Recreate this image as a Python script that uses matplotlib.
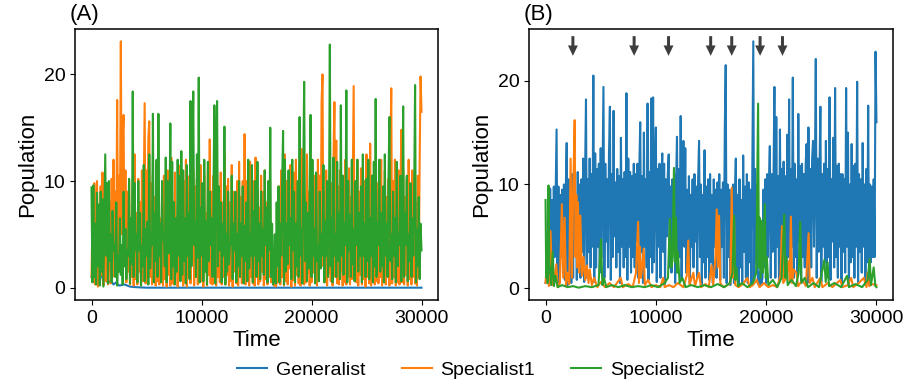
import numpy as np
import matplotlib
matplotlib.use("Agg")
import matplotlib.pyplot as plt

plt.rcParams['font.family'] = ['Liberation Sans', 'DejaVu Sans']

# ---------------- data ----------------
# dense series: 361 samples evenly spaced over 0 .. 30000
time_grid = np.linspace(0, 30000, 361)

orange_a = [
    1.0, 6.2, 0.5, 9.8, 0.3, 7.0, 10.0, 0.1, 6.5, 0.4, 9.5, 1.2, 10.8, 0.2, 5.0, 8.8, 0.6, 9.6, 0.3, 4.0,
    8.0, 0.4, 10.2, 1.0, 12.0, 2.5, 9.0, 4.0, 17.6, 3.0, 10.5, 6.0, 23.1, 5.0, 14.0, 16.2, 2.0, 11.0, 0.5, 9.0,
    1.5, 10.0, 0.3, 6.0, 1.0, 9.5, 0.2, 12.5, 0.8, 7.0, 0.3, 10.2, 1.5, 8.0, 0.2, 11.0, 0.6, 9.0, 17.3, 0.4,
    11.0, 2.0, 14.0, 15.6, 1.0, 9.8, 0.3, 10.5, 1.5, 8.5, 0.2, 11.8, 0.6, 10.0, 0.3, 6.5, 1.0, 9.0, 0.2, 10.5,
    0.8, 7.0, 0.1, 11.0, 1.2, 9.5, 0.2, 12.2, 0.4, 8.0, 0.3, 10.8, 1.5, 6.5, 0.1, 9.8, 0.8, 11.5, 2.0, 8.2,
    0.2, 10.0, 0.5, 12.0, 0.1, 9.0, 1.0, 10.5, 0.4, 7.5, 2.5, 11.0, 0.2, 9.5, 1.0, 10.2, 0.3, 8.0, 0.5, 11.5,
    0.6, 9.0, 0.1, 10.5, 1.5, 7.0, 0.2, 11.0, 1.2, 13.9, 0.4, 9.0, 0.3, 10.5, 2.5, 7.5, 0.2, 11.0, 1.0, 9.0,
    0.5, 10.8, 0.3, 8.0, 1.0, 12.5, 0.3, 9.5, 1.2, 10.2, 0.2, 8.0, 0.6, 11.5, 0.1, 9.0, 1.5, 7.0, 0.4, 10.0,
    0.2, 11.8, 1.0, 8.5, 0.4, 10.0, 0.8, 14.4, 0.3, 10.0, 0.8, 6.5, 0.2, 11.8, 1.0, 8.5, 0.4, 10.0, 0.2, 12.2,
    1.2, 9.0, 0.3, 7.5, 0.6, 10.5, 1.5, 9.0, 0.2, 11.0, 0.8, 8.0, 0.3, 10.0, 1.0, 6.0, 0.5, 1.5, 0.8, 0.2,
    1.0, 0.1, 0.4, 2.0, 0.5, 9.5, 0.3, 11.0, 1.0, 8.0, 0.2, 12.5, 0.6, 10.0, 0.3, 9.0, 1.8, 11.5, 0.1, 7.5,
    0.7, 10.8, 0.2, 12.0, 1.2, 9.0, 0.4, 11.5, 0.2, 13.0, 1.0, 10.2, 0.3, 8.5, 0.5, 12.5, 1.4, 9.0, 0.2, 11.0,
    0.5, 8.5, 1.4, 10.5, 0.6, 9.8, 0.2, 12.0, 1.0, 10.5, 3.0, 17.4, 20.0, 2.0, 9.0, 0.5, 11.0, 0.2, 8.5, 1.4,
    10.5, 0.6, 9.8, 0.2, 12.0, 17.4, 1.0, 13.8, 0.4, 9.5, 0.3, 11.0, 1.6, 8.0, 0.2, 10.5, 0.5, 12.0, 0.3, 9.0,
    1.0, 11.2, 0.3, 8.5, 0.8, 10.0, 18.9, 1.0, 10.0, 0.5, 12.0, 0.2, 9.0, 1.2, 11.2, 0.3, 8.5, 0.8, 10.0, 0.1,
    12.5, 1.0, 9.5, 0.4, 13.5, 0.2, 10.5, 1.5, 8.0, 0.3, 11.0, 0.6, 9.8, 0.4, 10.0, 1.0, 12.0, 0.2, 9.0, 0.8,
    11.0, 0.3, 8.5, 1.2, 10.2, 0.2, 12.0, 18.7, 0.4, 10.0, 1.0, 12.0, 0.2, 9.0, 0.5, 11.0, 0.3, 8.5, 14.8, 0.5,
    11.0, 0.3, 8.5, 1.2, 10.2, 0.2, 12.0, 0.8, 9.5, 0.3, 11.0, 1.0, 10.0, 0.4, 8.0, 0.2, 10.5, 1.0, 12.0, 19.8,
    16.5,
]

green_a = [
    9.4, 0.5, 9.6, 1.0, 6.0, 0.3, 8.9, 2.0, 7.8, 0.2, 9.0, 1.5, 8.3, 0.1, 6.5, 12.5, 3.0, 9.8, 0.4, 10.0,
    2.5, 5.0, 0.5, 7.2, 3.5, 4.0, 1.0, 8.0, 0.2, 3.0, 1.5, 6.5, 1.2, 4.0, 0.3, 9.0, 2.0, 5.5, 0.8, 3.5,
    3.0, 10.2, 0.4, 6.5, 2.2, 18.4, 1.0, 9.8, 3.5, 5.0, 0.5, 10.0, 3.5, 7.0, 0.2, 4.0, 2.0, 11.5, 0.6, 5.5,
    3.0, 6.2, 0.3, 12.5, 1.8, 5.0, 4.0, 16.3, 0.5, 7.0, 2.5, 12.0, 1.0, 16.3, 3.0, 6.0, 0.5, 10.0, 4.5, 5.0,
    2.0, 12.2, 0.5, 10.0, 3.2, 6.5, 15.4, 0.8, 11.8, 2.0, 8.0, 0.3, 6.5, 1.5, 12.0, 3.0, 10.5, 0.6, 12.8, 1.2,
    11.0, 2.5, 6.5, 0.4, 11.5, 3.0, 7.0, 0.8, 17.5, 2.0, 10.8, 18.4, 4.0, 6.2, 1.0, 12.5, 2.8, 19.7, 0.5, 7.5,
    3.0, 9.8, 0.6, 12.0, 1.5, 6.2, 0.3, 11.8, 2.5, 9.0, 4.0, 6.5, 1.0, 8.0, 17.1, 0.4, 12.8, 17.5, 2.0, 9.5,
    3.5, 8.0, 0.5, 6.0, 3.0, 15.1, 0.3, 5.0, 1.5, 9.0, 2.2, 4.0, 4.0, 10.5, 0.8, 6.0, 3.5, 9.0, 0.5, 5.0,
    2.0, 10.0, 1.0, 6.0, 3.0, 9.5, 0.4, 5.8, 2.5, 8.0, 0.6, 12.0, 1.8, 5.0, 3.0, 11.5, 0.5, 7.2, 3.0, 10.0,
    1.0, 11.8, 2.5, 6.0, 0.8, 9.0, 3.0, 5.5, 1.2, 11.0, 4.0, 7.5, 0.5, 10.0, 3.5, 15.0, 1.0, 6.0, 0.3, 0.8,
    5.0, 0.4, 8.0, 2.0, 9.5, 0.5, 6.0, 3.0, 10.0, 14.7, 0.3, 12.0, 1.5, 6.0, 2.2, 11.0, 4.0, 6.5, 0.8, 12.0,
    3.5, 9.0, 0.5, 6.0, 2.0, 10.0, 1.0, 16.0, 3.0, 5.5, 0.4, 10.8, 19.3, 2.5, 8.0, 0.6, 7.0, 1.8, 10.0, 16.2,
    1.0, 12.0, 3.0, 5.5, 0.4, 10.8, 2.5, 4.0, 0.6, 9.0, 1.8, 5.0, 3.0, 11.5, 0.5, 6.2, 3.0, 10.0, 1.0, 5.8,
    22.8, 2.0, 6.5, 0.5, 12.2, 3.0, 5.0, 1.0, 11.8, 2.5, 7.0, 0.8, 17.1, 3.0, 10.5, 1.2, 6.0, 4.0, 18.5, 0.5,
    10.0, 3.5, 6.8, 1.0, 12.0, 2.2, 5.5, 0.6, 10.0, 4.0, 12.0, 1.5, 7.0, 3.0, 9.5, 0.5, 12.5, 3.0, 6.0, 1.0,
    10.2, 2.5, 12.0, 0.8, 6.5, 3.0, 10.5, 0.5, 11.8, 2.0, 17.7, 1.0, 6.0, 4.0, 12.0, 1.5, 7.0, 2.0, 9.5, 0.5,
    12.5, 3.0, 6.0, 1.0, 10.2, 16.0, 2.5, 5.0, 0.8, 9.0, 3.0, 6.5, 0.5, 11.8, 2.0, 5.0, 4.0, 10.5, 0.6, 6.0,
    17.0, 1.0, 7.0, 4.0, 10.5, 0.6, 5.0, 2.5, 9.8, 1.0, 6.5, 3.0, 9.0, 19.0, 0.5, 5.5, 2.0, 8.5, 0.8, 6.0,
    3.5,
]

gen_a_time = [0, 250, 500, 750, 1000, 1100, 1250, 1500, 1750, 2000, 2250, 2500, 3000, 3500, 4000, 5000, 30000]
gen_a_vals = [1.0, 0.6, 0.9, 0.5, 1.8, 0.8, 1.2, 0.4, 0.7, 0.3, 0.5, 0.2, 0.3, 0.1, 0.05, 0.0, 0.0]

blue_b = [
    0.5, 1.0, 4.0, 9.5, 0.8, 9.6, 2.0, 8.5, 0.5, 9.8, 3.0, 9.0, 15.3, 1.0, 9.8, 0.5, 9.0, 3.0, 9.5, 1.5,
    10.0, 0.8, 9.5, 14.0, 0.3, 10.5, 2.5, 9.8, 0.5, 11.0, 1.0, 10.8, 4.0, 9.0, 0.8, 11.2, 2.0, 10.0, 1.0, 10.5,
    3.5, 12.5, 0.6, 11.0, 18.2, 1.0, 10.5, 3.5, 12.5, 2.0, 11.0, 4.0, 20.5, 0.6, 13.0, 2.0, 11.5, 4.0, 12.0, 1.5,
    13.5, 3.0, 11.0, 19.4, 1.0, 12.0, 4.5, 10.5, 2.0, 12.8, 17.5, 0.8, 11.0, 3.0, 17.1, 5.0, 10.2, 2.0, 11.5, 3.5,
    10.8, 0.5, 14.5, 4.0, 10.5, 2.0, 11.2, 3.0, 18.8, 0.8, 12.5, 4.0, 11.2, 1.5, 10.8, 3.0, 12.0, 2.0, 11.0, 4.5,
    12.0, 1.0, 11.5, 16.0, 3.5, 10.8, 0.5, 15.0, 4.0, 10.5, 2.0, 17.8, 0.8, 11.2, 3.0, 18.3, 1.5, 18.4, 2.5, 10.8,
    15.5, 0.6, 11.5, 4.0, 12.0, 1.0, 10.2, 13.0, 3.5, 12.0, 0.4, 10.5, 5.0, 11.0, 12.9, 2.0, 9.8, 1.5, 10.5, 4.0,
    11.0, 0.5, 10.0, 14.6, 1.5, 11.5, 3.0, 16.6, 0.8, 10.0, 14.2, 4.0, 13.5, 1.5, 9.5, 3.0, 10.8, 0.5, 9.0, 4.0,
    10.5, 2.0, 11.0, 4.5, 9.8, 1.0, 10.5, 14.2, 3.0, 10.0, 0.4, 9.0, 2.5, 13.3, 1.0, 9.8, 3.0, 10.5, 0.8, 11.0,
    2.5, 9.0, 0.5, 10.5, 4.0, 9.5, 1.0, 10.2, 3.0, 11.0, 0.8, 9.5, 4.0, 10.2, 1.0, 15.4, 21.5, 0.5, 10.0, 3.0,
    9.5, 0.3, 8.8, 2.0, 10.0, 0.5, 9.0, 12.5, 1.0, 9.0, 0.3, 10.5, 2.0, 8.5, 0.6, 12.8, 3.5, 9.8, 1.0, 11.0,
    0.5, 10.2, 2.5, 9.5, 0.4, 11.5, 23.8, 0.8, 11.5, 2.5, 10.0, 0.4, 1.5, 0.2, 2.0, 0.5, 1.0, 9.5, 2.0, 10.5,
    0.5, 11.0, 3.0, 10.0, 13.7, 1.0, 11.0, 3.5, 10.5, 19.4, 1.0, 16.5, 4.0, 10.8, 0.6, 15.3, 3.5, 11.5, 2.0, 12.2,
    4.0, 10.8, 1.5, 14.8, 3.0, 18.2, 0.8, 11.5, 4.0, 20.3, 1.0, 12.0, 3.0, 10.5, 1.2, 16.8, 4.5, 11.8, 0.5, 12.0,
    3.0, 11.0, 2.0, 12.0, 13.9, 0.5, 15.5, 3.0, 11.5, 2.0, 12.5, 14.2, 4.0, 11.0, 22.1, 1.0, 12.5, 3.5, 11.0, 17.5,
    0.6, 11.0, 4.0, 12.0, 2.5, 14.2, 1.0, 11.5, 3.0, 18.4, 0.8, 10.5, 4.5, 14.5, 2.0, 19.3, 3.0, 11.8, 1.0, 12.0,
    4.0, 11.0, 0.5, 11.0, 3.5, 10.5, 1.5, 19.3, 4.0, 15.0, 0.3, 10.0, 2.5, 13.9, 3.0, 11.8, 1.0, 12.0, 4.0, 19.9,
    0.5, 11.0, 3.5, 10.5, 1.5, 14.0, 4.0, 10.0, 0.3, 11.5, 2.5, 17.6, 0.3, 10.0, 2.5, 9.8, 3.0, 10.5, 3.0, 22.8,
    16.0,
]

orange_b_time = [
    0, 150, 300, 450, 600, 800, 970, 1100, 1300, 1480, 1600, 1730, 1850, 2000, 2150, 2270, 2400, 2500, 2640, 2720,
    2790, 2870, 2940, 3050, 3150, 3300, 3450, 3600, 3750, 3900, 4000, 4200, 4400, 4700, 5000, 5400, 5800, 6200, 6810, 7000,
    7500, 7900, 8200, 8390, 8470, 8540, 8650, 8750, 8900, 9000, 9300, 9600, 10000, 10400, 10660, 10800, 11200, 11600, 12000, 12500,
    12800, 12940, 13050, 13400, 13550, 13900, 14100, 14500, 14800, 15050, 15200, 15400, 15520, 15620, 15730, 15850, 16100, 16500, 16750, 16880,
    16970, 17090, 17200, 17500, 17900, 18300, 18500, 18800, 19150, 19400, 19800, 20200, 20600, 21000, 21300, 21430, 21550, 21800, 22030, 22150,
    22240, 22350, 22500, 22730, 22900, 23300, 23600, 23850, 23950, 24200, 24400, 24910, 25100, 25600, 26000, 26730, 26900, 27400, 27700, 27900,
    28400, 28850, 29100, 29200, 29350, 29600, 30000,
]
orange_b_vals = [
    0.5, 3.0, 0.2, 5.5, 0.3, 1.0, 2.3, 0.1, 0.5, 8.1, 1.0, 6.8, 0.2, 1.5, 0.4, 12.5, 1.0, 9.0, 16.2, 3.0,
    9.0, 2.0, 8.3, 1.5, 7.0, 1.2, 3.0, 0.8, 2.2, 0.5, 1.8, 0.3, 1.0, 0.1, 0.6, 0.1, 0.5, 0.1, 1.0, 0.1,
    0.4, 0.1, 1.5, 6.4, 0.5, 4.0, 1.0, 2.0, 3.8, 0.3, 0.8, 0.1, 0.3, 0.1, 1.0, 0.1, 0.3, 0.1, 0.5, 0.1,
    1.2, 4.6, 0.3, 1.5, 0.2, 1.5, 0.1, 0.4, 0.1, 2.2, 0.3, 3.0, 7.6, 2.0, 7.0, 0.5, 0.1, 0.3, 0.5, 9.7,
    1.0, 6.8, 0.3, 0.1, 0.4, 1.0, 0.1, 0.3, 0.8, 0.1, 0.5, 0.1, 0.3, 0.1, 1.2, 6.0, 0.5, 1.0, 2.6, 0.6,
    6.9, 0.5, 1.8, 1.5, 0.2, 0.8, 0.2, 5.3, 0.5, 1.0, 0.1, 1.0, 0.1, 0.5, 0.1, 0.8, 0.1, 0.3, 1.0, 0.1,
    0.5, 1.0, 0.1, 1.5, 0.2, 0.4, 0.3,
]

green_b_time = [
    0, 60, 120, 200, 270, 350, 420, 500, 640, 760, 900, 1100, 1500, 2000, 2500, 3000, 3600, 4200, 4800, 5030,
    5150, 5300, 5500, 6000, 6600, 7200, 7800, 8400, 9000, 9600, 10200, 10800, 11100, 11270, 11400, 11520, 11640, 11730, 11820, 11920,
    12000, 12150, 12400, 12700, 13200, 13800, 14400, 15000, 15600, 16200, 16700, 16950, 17090, 17200, 17300, 17450, 17800, 18300, 18800, 19100,
    19270, 19340, 19400, 19500, 19610, 19720, 19880, 19970, 20060, 20200, 20600, 21000, 21400, 21640, 21740, 21820, 21950, 22300, 22700, 22950,
    23090, 23200, 23500, 23800, 24300, 24800, 25270, 25400, 25570, 25700, 26200, 26800, 27330, 27500, 28100, 28700, 29200, 29390, 29500, 29750,
    29900, 30000,
]
green_b_vals = [
    8.5, 1.0, 4.3, 0.5, 9.9, 1.5, 2.0, 0.3, 3.5, 0.2, 1.2, 0.1, 0.3, 0.1, 0.2, 0.05, 0.2, 0.1, 0.3, 4.7,
    0.3, 1.0, 0.1, 0.3, 0.1, 0.3, 0.1, 0.2, 0.1, 0.3, 0.1, 0.5, 1.0, 6.7, 2.0, 3.0, 11.6, 2.5, 6.8, 1.5,
    3.5, 0.5, 1.0, 0.1, 0.3, 0.1, 0.3, 0.1, 0.4, 0.1, 0.5, 1.5, 7.0, 0.8, 2.0, 0.2, 0.5, 0.1, 0.5, 1.5,
    17.8, 2.0, 6.8, 1.0, 6.5, 1.5, 8.1, 1.0, 3.0, 0.3, 0.8, 0.1, 1.0, 7.1, 1.0, 3.0, 0.3, 0.8, 0.2, 1.5,
    6.4, 0.5, 1.0, 0.1, 0.5, 0.1, 2.7, 0.6, 2.5, 0.2, 0.5, 0.1, 1.2, 0.1, 0.4, 0.1, 0.8, 2.8, 0.3, 2.0,
    0.2, 0.1,
]

arrow_times = [2480, 8030, 11150, 14970, 16880, 19450, 21480]

series_names = ["Generalist", "Specialist1", "Specialist2"]
colors = ["#1f77b4", "#ff7f0e", "#2ca02c"]

# ---------------- figure ----------------
fig = plt.figure(figsize=(9.22, 3.87), dpi=100)
axA = fig.add_axes([75 / 922, 87 / 387, 363 / 922, 271 / 387])
axB = fig.add_axes([529 / 922, 87 / 387, 364 / 922, 271 / 387])

lw = 1.5
axA.plot(gen_a_time, gen_a_vals, color=colors[0], lw=lw, label=series_names[0])
axA.plot(time_grid, orange_a, color=colors[1], lw=lw, label=series_names[1])
axA.plot(time_grid, green_a, color=colors[2], lw=lw, label=series_names[2])

axB.plot(time_grid, blue_b, color=colors[0], lw=lw)
axB.plot(orange_b_time, orange_b_vals, color=colors[1], lw=lw)
axB.plot(green_b_time, green_b_vals, color=colors[2], lw=lw)

for ax, tag in [(axA, "(A)"), (axB, "(B)")]:
    ax.set_xlabel("Time", fontsize=16, labelpad=2)
    ax.set_ylabel("Population", fontsize=16, labelpad=4)
    ax.set_xticks([0, 10000, 20000, 30000])
    ax.set_yticks([0, 10, 20])
    ax.tick_params(labelsize=14)
    for s in ax.spines.values():
        s.set_linewidth(1.1)
    ax.text(-0.015, 1.015, tag, transform=ax.transAxes, fontsize=16,
            ha="left", va="bottom")

# freeze limits from the data, then add arrows
ylB = axB.get_ylim()
xlB = axB.get_xlim()
axB.set_ylim(ylB)
axB.set_xlim(xlB)
for t in arrow_times:
    axB.arrow(t, 24.3, 0, -1.9, width=270, head_width=900, head_length=1.0,
              length_includes_head=True, color="#3d3d3d", lw=0)

fig.legend(loc="center", bbox_to_anchor=(0.511, 17 / 387), ncol=3, frameon=False,
           fontsize=14, columnspacing=1.85, handlelength=1.55, handletextpad=0.45)

fig.savefig("out.png", dpi=100)
